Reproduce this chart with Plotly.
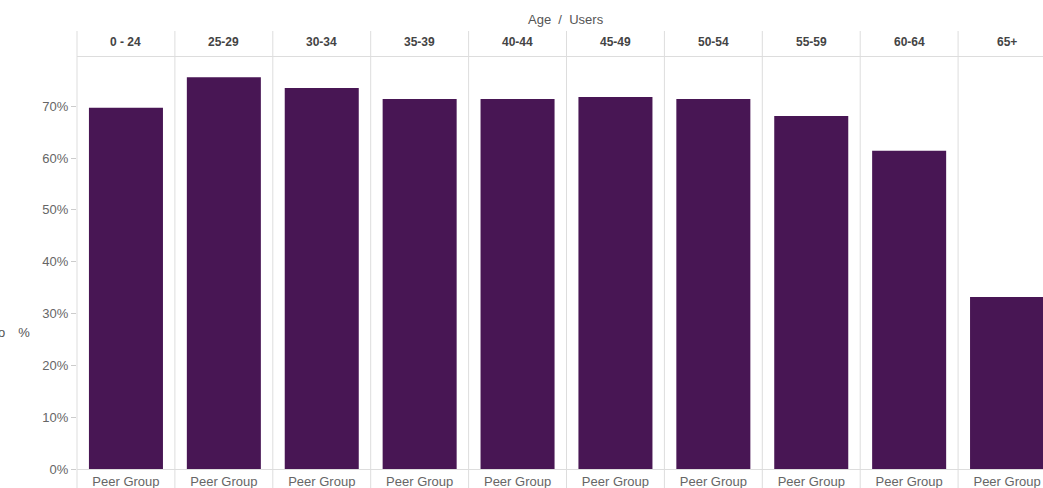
import plotly.graph_objects as go
from plotly.subplots import make_subplots

# ---- data ----
age_groups = ["0 - 24", "25-29", "30-34", "35-39", "40-44", "45-49", "50-54", "55-59", "60-64", "65+"]
series_name = "Peer Group"
peer_values = [0.697, 0.756, 0.735, 0.714, 0.714, 0.718, 0.714, 0.681, 0.614, 0.332]
y_ticks = [0, 0.1, 0.2, 0.3, 0.4, 0.5, 0.6, 0.7]
chart_title = "Age  /  Users"
y_title = "Ratio\u2003%"

# ---- geometry (pixels) ----
W, H = 1043, 488
ML, MR, MT, MB = 77, 0, 57, 19
plot_w = W - ML - MR
plot_h = H - MT - MB
col_w = 97.9
n = len(age_groups)


def px_x(x_ref):
    return (x_ref - ML) / plot_w


def px_y(y_ref):
    return (H - MB - y_ref) / plot_h


FONT = "Liberation Sans, Arial, Helvetica, sans-serif"
BAR = "#481654"
LINE = "#dddddd"

fig = make_subplots(rows=1, cols=n, horizontal_spacing=0, shared_yaxes=True)

bounds = []
for i in range(n):
    x0 = i * col_w / plot_w
    x1 = min((i + 1) * col_w / plot_w, 1.0)
    bounds.append((x0, x1))

for i, (age, v) in enumerate(zip(age_groups, peer_values)):
    fig.add_trace(
        go.Bar(x=[series_name], y=[v], marker=dict(color=BAR, line=dict(width=0)),
               showlegend=False, name=age,
               hovertemplate=age + "<br>%{x}: %{y:.1%}<extra></extra>"),
        row=1, col=i + 1,
    )
    x0, x1 = bounds[i]
    xa = "xaxis" if i == 0 else f"xaxis{i+1}"
    span_px = (x1 - x0) * plot_w
    rng = [-0.5, -0.5 + span_px / col_w]
    fig.layout[xa].update(
        domain=[x0, x1], type="category", range=rng,
        showline=True, linecolor=LINE, linewidth=1, mirror=True,
        showgrid=False, zeroline=False, ticks="",
        tickfont=dict(family=FONT, size=13, color="#666666"),
        fixedrange=True,
    )
    ya = "yaxis" if i == 0 else f"yaxis{i+1}"
    fig.layout[ya].update(
        range=[0, 0.795], showgrid=False, zeroline=False, showline=False,
        fixedrange=True,
    )
    # column header (facet label)
    fig.add_annotation(
        x=x0 + col_w / plot_w / 2,
        y=px_y(42), xref="paper", yref="paper",
        text="<b>" + age + "</b>", showarrow=False,
        font=dict(family=FONT, size=12, color="#444444"),
        xanchor="center", yanchor="middle",
    )
    # facet separator line
    fig.add_shape(
        type="line", xref="paper", yref="paper",
        x0=x0, x1=x0, y0=px_y(490), y1=px_y(31),
        line=dict(color=LINE, width=1),
    )

fig.layout.yaxis.update(
    tickvals=y_ticks, tickformat=".0%", ticks="outside", ticklen=5,
    tickcolor="#cccccc", tickfont=dict(family=FONT, size=13, color="#666666"),
    showticklabels=True,
)

fig.update_layout(
    bargap=0.244,
    width=W, height=H,
    margin=dict(l=ML, r=MR, t=MT, b=MB, pad=0),
    plot_bgcolor="white", paper_bgcolor="white",
    font=dict(family=FONT, color="#555555"),
)

fig.add_annotation(
    x=px_x(32), y=px_y(333), xref="paper", yref="paper",
    text=y_title, showarrow=False,
    font=dict(family=FONT, size=13, color="#555555"),
    xanchor="right", yanchor="middle",
)
fig.add_annotation(
    x=px_x(566), y=px_y(19), xref="paper", yref="paper",
    text=chart_title, showarrow=False,
    font=dict(family=FONT, size=13, color="#555555"),
    xanchor="center", yanchor="middle",
)

fig.write_html(
    "out.html",
    config={"displayModeBar": False},
    post_script="document.body.style.margin='0';document.body.style.overflow='hidden';",
)
